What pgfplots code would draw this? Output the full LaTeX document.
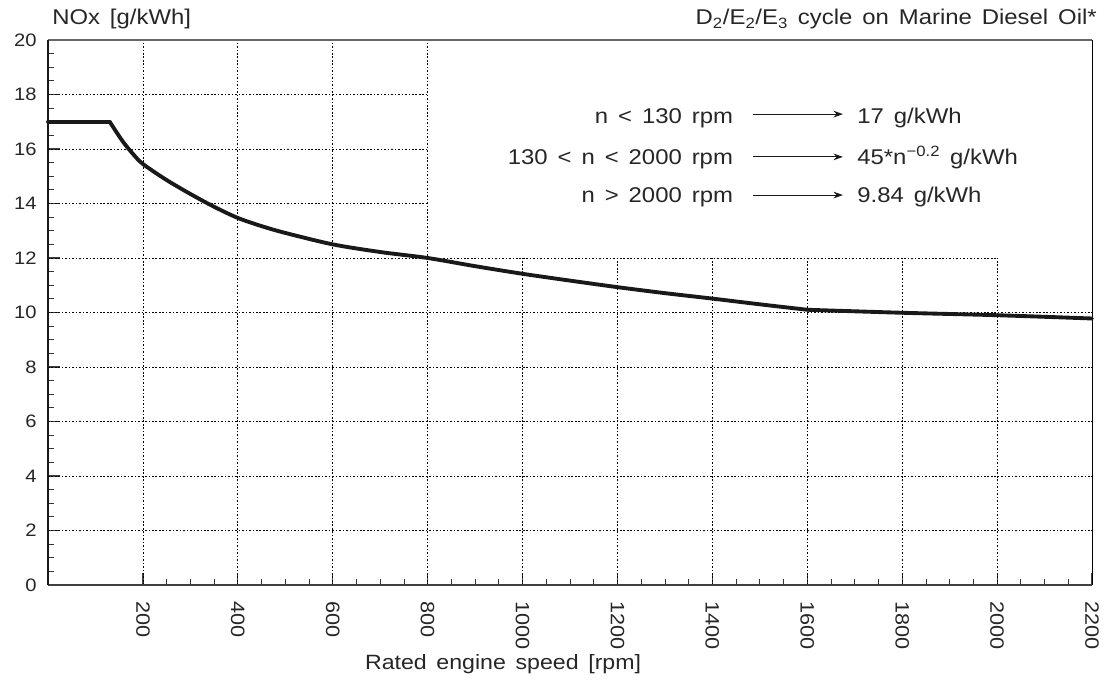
\documentclass[border=0pt]{standalone}
\usepackage{fontspec}
\setmainfont{Liberation Sans}[FakeStretch=1.12,WordSpace=1.5]
\usepackage{pgfplots}
\pgfplotsset{compat=1.18}
\usetikzlibrary{arrows.meta}
\pgfplotstableread{
x y
0 17
130 17
}\flatpart
\pgfplotstableread{
x y
130 17
145 16.6
160 16.22
180 15.8
200 15.45
250 14.86
300 14.35
350 13.88
400 13.47
450 13.17
500 12.92
600 12.5
700 12.22
800 12.0
900 11.7
1000 11.42
1100 11.17
1200 10.93
1300 10.71
1400 10.51
1500 10.3
1600 10.1
}\midpart
\pgfplotstableread{
x y
1600 10.1
1800 9.99
2000 9.9
2200 9.78
}\highpart
\begin{document}
\begin{tikzpicture}
\begin{axis}[
  scale only axis, width=783pt, height=408.75pt,
  xmin=0, xmax=2200, ymin=0, ymax=20,
  clip=false,
  axis line style={draw=none},
  xtick={200,400,...,2200}, ytick={0,2,...,20},
  minor x tick num=3, minor y tick num=3,
  xtick pos=bottom, ytick pos=left,
  tick align=inside,
  major tick length=9pt, minor tick length=4.5pt,
  major tick style={black!75, line width=0.9pt},
  minor tick style={black!80, line width=0.6pt},
  /pgf/number format/assume math mode=true,
  /pgf/number format/1000 sep={},
  yticklabel style={font=\fontsize{13.5}{16}\selectfont, text=black!85},
  xticklabel style={font=\fontsize{14.5}{17}\selectfont, text=black!85, rotate=-90, anchor=west},
  xticklabel shift=9pt,
  yticklabel shift=5pt,
]
% grid
\begin{scope}[black, line width=0.6pt, dash pattern=on 1.2pt off 1.4pt]
\foreach \xv in {200,400,600,800} {\edef\tmp{\noexpand\draw (axis cs:\xv,0) -- (axis cs:\xv,20);}\tmp}
\foreach \xv in {1000,1200,1400,1600,1800,2000} {\edef\tmp{\noexpand\draw (axis cs:\xv,0) -- (axis cs:\xv,12);}\tmp}
\foreach \yv in {14,16,18} {\edef\tmp{\noexpand\draw (axis cs:0,\yv) -- (axis cs:800,\yv);}\tmp}
\draw (axis cs:0,12) -- (axis cs:2000,12);
\foreach \yv in {2,4,6,8,10} {\edef\tmp{\noexpand\draw (axis cs:0,\yv) -- (axis cs:2200,\yv);}\tmp}
\end{scope}
% frame
\draw[black!60, line width=1.4pt] (rel axis cs:0,1) -- (rel axis cs:1,1);
\draw[black, line width=0.6pt] (rel axis cs:1,0) -- (rel axis cs:1,1);
\draw[black!75, line width=1.4pt] (rel axis cs:0,0) -- (rel axis cs:1,0);
\draw[black!90, line width=1.4pt] (rel axis cs:0,0) -- (rel axis cs:0,1);

\addplot[color=black!90, line width=2.9pt, line cap=round] table[x=x,y=y] {\flatpart};
\addplot[color=black!90, line width=2.9pt, line cap=round, smooth, tension=0.5] table[x=x,y=y] {\midpart};
\addplot[color=black!90, line width=2.9pt, line cap=round, smooth, tension=0.5] table[x=x,y=y] {\highpart};

% titles
\node[anchor=base west, inner sep=0, font=\fontsize{16}{19}\selectfont, text=black!85]
  at ([shift={(3pt,11.25pt)}]rel axis cs:0,1) {NOx [g/kWh]};
\node[anchor=base east, inner sep=0, font=\fontsize{16}{19}\selectfont, text=black!85]
  at ([shift={(3.75pt,11.25pt)}]rel axis cs:1,1) {D\textsubscript{2}/E\textsubscript{2}/E\textsubscript{3} cycle on Marine Diesel Oil*};
\node[anchor=base, inner sep=0, font=\fontsize{15.5}{18}\selectfont, text=black!85]
  at ([shift={(0pt,-63pt)}]axis cs:959,0) {Rated engine speed [rpm]};

% annotations
\begin{scope}[font=\fontsize{16}{19}\selectfont, text=black!85]
\node[anchor=base east, inner sep=0] at (axis cs:1444,16.95) {n < 130 rpm};
\node[anchor=base east, inner sep=0] at (axis cs:1444,15.43) {130 < n < 2000 rpm};
\node[anchor=base east, inner sep=0] at (axis cs:1444,14.04) {n > 2000 rpm};
\node[anchor=base west, inner sep=0] at (axis cs:1705,16.95) {17 g/kWh};
\node[anchor=base west, inner sep=0] at (axis cs:1705,15.43) {45*n\textsuperscript{−0.2} g/kWh};
\node[anchor=base west, inner sep=0] at (axis cs:1705,14.04) {9.84 g/kWh};
\end{scope}
\begin{scope}[black!90, line width=0.7pt, -{Stealth[length=7pt,width=5pt]}]
\draw (axis cs:1486,17.28) -- (axis cs:1675,17.28);
\draw (axis cs:1486,15.71) -- (axis cs:1675,15.71);
\draw (axis cs:1486,14.31) -- (axis cs:1675,14.31);
\end{scope}
\end{axis}
\pgfresetboundingbox
\path[use as bounding box] ([shift={(-36pt,-72pt)}]current axis.south west) rectangle ([shift={(12pt,30pt)}]current axis.north east);
\end{tikzpicture}
\end{document}
